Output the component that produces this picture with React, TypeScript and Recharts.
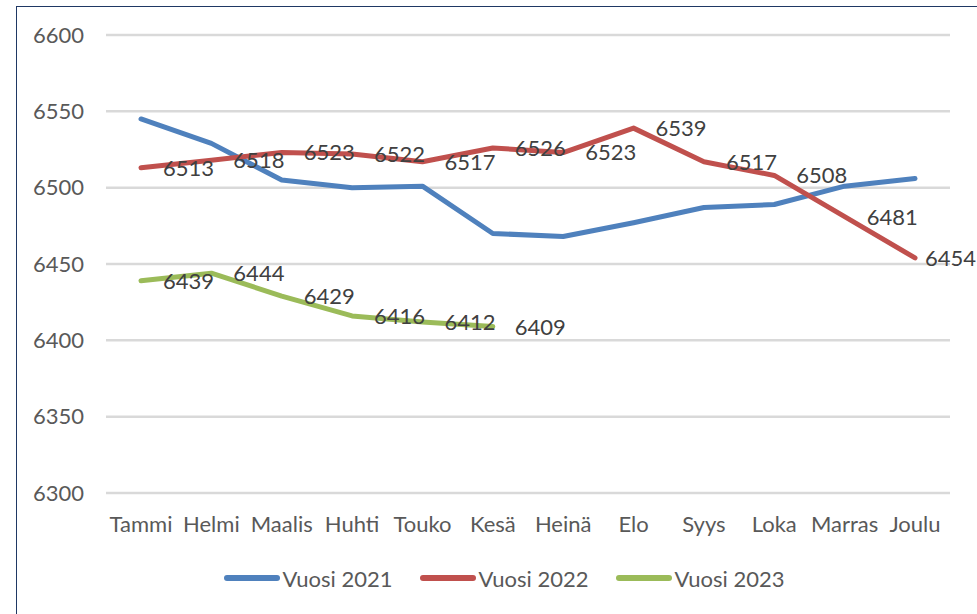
import React from 'react';
import { LineChart, Line, XAxis, YAxis, CartesianGrid, Legend } from 'recharts';

const months = ['Tammi', 'Helmi', 'Maalis', 'Huhti', 'Touko', 'Kesä', 'Heinä', 'Elo', 'Syys', 'Loka', 'Marras', 'Joulu'];
const vuosi2021 = [6545, 6529, 6505, 6500, 6501, 6470, 6468, 6477, 6487, 6489, 6501, 6506];
const vuosi2022 = [6513, 6518, 6523, 6522, 6517, 6526, 6523, 6539, 6517, 6508, 6481, 6454];
const vuosi2023 = [6439, 6444, 6429, 6416, 6412, 6409];
const yTicks = [6300, 6350, 6400, 6450, 6500, 6550, 6600];

const data = months.map((m, i) => ({
  month: m,
  v2021: vuosi2021[i],
  v2022: vuosi2022[i],
  v2023: vuosi2023[i],
}));

const FONT = 'Lato, "Open Sans", sans-serif';

// data label to the right of the point, pushed back inside the chart at the edge
const DataLabel = (props: any) => {
  const { x, y, value } = props;
  if (value == null || x == null) return null;
  const lx = Math.min(x + 22, 925);
  return (
    <text x={lx} y={y} dy="0.36em" fill="#404040" fontSize={22} fontFamily={FONT}>
      {value}
    </text>
  );
};

const renderLegend = ({ payload }: any) => (
  <div
    style={{
      display: 'flex',
      justifyContent: 'center',
      alignItems: 'center',
      gap: 27,
      height: 30,
      paddingLeft: 58,
      boxSizing: 'border-box',
      width: '100%',
      fontFamily: FONT,
      fontSize: 22,
      color: '#595959',
    }}
  >
    {payload.map((p: any) => (
      <div key={p.value} style={{ display: 'flex', alignItems: 'center' }}>
        <span style={{ display: 'inline-block', width: 56, height: 6, borderRadius: 3, background: p.color }} />
        <span style={{ marginLeft: 3 }}>{p.value}</span>
      </div>
    ))}
  </div>
);

export default function App() {
  return (
    <div style={{ position: 'absolute', left: 0, top: 0, width: 977, height: 614, overflow: 'hidden', background: '#fff' }}>
      <div
        style={{
          position: 'absolute',
          left: 16,
          top: 6,
          width: 1100,
          height: 700,
          borderTop: '1.5px solid #1F3864',
          borderLeft: '1.5px solid #1F3864',
        }}
      />
      <div style={{ position: 'absolute', left: 0, top: 0 }}>
        <LineChart width={977} height={614} data={data} margin={{ top: 35, right: 27, bottom: 21, left: 0 }}>
          <CartesianGrid vertical={false} stroke="#D9D9D9" strokeWidth={2.5} />
          <XAxis
            dataKey="month"
            height={70}
            axisLine={false}
            tickLine={false}
            tickSize={0}
            tickMargin={23}
            padding={{ left: 35, right: 35 }}
            interval={0}
            tick={{ fill: '#595959', fontSize: 22, fontFamily: FONT }}
          />
          <YAxis
            width={106}
            domain={[6300, 6600]}
            ticks={yTicks}
            axisLine={false}
            tickLine={false}
            tickSize={0}
            tickMargin={22}
            tick={{ fill: '#595959', fontSize: 22, fontFamily: FONT }}
          />
          <Legend verticalAlign="bottom" content={renderLegend} />
          <Line
            name="Vuosi 2021"
            dataKey="v2021"
            stroke="#4F81BD"
            strokeWidth={5}
            strokeLinecap="round"
            strokeLinejoin="round"
            dot={false}
            activeDot={false}
            isAnimationActive={false}
          />
          <Line
            name="Vuosi 2022"
            dataKey="v2022"
            stroke="#C0504D"
            strokeWidth={5}
            strokeLinecap="round"
            strokeLinejoin="round"
            dot={false}
            activeDot={false}
            label={<DataLabel />}
            isAnimationActive={false}
          />
          <Line
            name="Vuosi 2023"
            dataKey="v2023"
            stroke="#9BBB59"
            strokeWidth={5}
            strokeLinecap="round"
            strokeLinejoin="round"
            dot={false}
            activeDot={false}
            label={<DataLabel />}
            isAnimationActive={false}
          />
        </LineChart>
      </div>
    </div>
  );
}
